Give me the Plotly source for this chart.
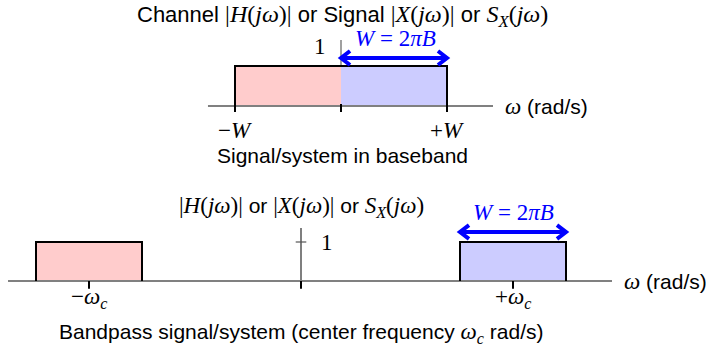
import plotly.graph_objects as go

# ---- data (normalised units: bandwidth W = 1, carrier wc = 2W) ----
W = 1.0
WC = 2.0
AMPLITUDE = 1.0
baseband_left = [-W, 0.0]          # red half of the baseband spectrum
baseband_right = [0.0, W]          # blue half of the baseband spectrum
baseband_ticks = [-W, 0.0, W]
baseband_tick_labels = ["\u2212<i>W</i>", "+<i>W</i>"]
passband_centers = [-WC, WC]
passband_ticks = [-WC, 0.0, WC]
passband_tick_labels = ["\u2212<i>\u03c9<sub>c</sub></i>", "+<i>\u03c9<sub>c</sub></i>"]

# ---- styling ----
W_PX, H_PX = 706, 346
SPLIT_PX = 170
SANS = "Liberation Sans"
SERIF = "Liberation Serif"
FS = 21
FS_MATH = 23
RED_FILL = "#ffcccc"
BLUE_FILL = "#ccccff"
AXIS_GRAY = "#808080"
BLUE = "#0000ff"


def serif(s, size=FS_MATH):
    return f'<span style="font-family:{SERIF};font-size:{size}px">{s}</span>'


def spectra(size):
    return (serif("|<i>H</i>(<i>j\u03c9</i>)|", size),
            serif("|<i>X</i>(<i>j\u03c9</i>)|", size),
            serif("<i>S<sub>X</sub></i>(<i>j\u03c9</i>)", size))


BW_TXT = "<i>W</i>\u2005=\u20052<i>\u03c0B</i>"

fig = go.Figure()


def line(xs, ys, color, width, ax):
    fig.add_trace(go.Scatter(
        x=xs, y=ys, mode="lines", line=dict(color=color, width=width),
        hoverinfo="skip", showlegend=False, xaxis=ax[0], yaxis=ax[1]))


def box_fill(x0, x1, h, color, ax):
    fig.add_trace(go.Scatter(
        x=[x0, x0, x1, x1, x0], y=[0, h, h, 0, 0], mode="lines",
        line=dict(width=0), fill="toself", fillcolor=color,
        hoverinfo="skip", showlegend=False, xaxis=ax[0], yaxis=ax[1]))


def double_arrow(x0, x1, y, ax, back, half):
    line([x0, x1], [y, y], BLUE, 4, ax)
    line([x0 + back, x0, x0 + back], [y + half, y, y - half], BLUE, 4, ax)
    line([x1 - back, x1, x1 - back], [y + half, y, y - half], BLUE, 4, ax)


TOP = ("x", "y")
BOT = ("x2", "y2")

# ---------------- baseband panel ----------------
line([0, 0], [0, 1.65], AXIS_GRAY, 1.5, TOP)
box_fill(baseband_left[0], baseband_left[1], AMPLITUDE, RED_FILL, TOP)
box_fill(baseband_right[0], baseband_right[1], AMPLITUDE, BLUE_FILL, TOP)
line([-1.255, 1.434], [0, 0], AXIS_GRAY, 2, TOP)
line([baseband_left[0], baseband_left[0], baseband_right[1], baseband_right[1]],
     [0, AMPLITUDE, AMPLITUDE, 0], "black", 2, TOP)
for t in baseband_ticks:
    line([t, t], [0.05, -0.15], "black", 2, TOP)
double_arrow(0.0, W, 1.2, TOP, 0.085, 0.175)

# ---------------- bandpass panel ----------------
line([0, 0], [0, 1.36], "#555555", 1.5, BOT)
line([-0.05, 0.05], [AMPLITUDE, AMPLITUDE], "#555555", 1.2, BOT)
box_fill(passband_centers[0] - W / 2, passband_centers[0] + W / 2, AMPLITUDE, RED_FILL, BOT)
box_fill(passband_centers[1] - W / 2, passband_centers[1] + W / 2, AMPLITUDE, BLUE_FILL, BOT)
line([-2.764, 2.934], [0, 0], AXIS_GRAY, 2, BOT)
for c in passband_centers:
    line([c - W / 2, c - W / 2, c + W / 2, c + W / 2], [0, AMPLITUDE, AMPLITUDE, 0], "black", 2, BOT)
for t in passband_ticks:
    line([t, t], [0, -0.2], "black", 2, BOT)
double_arrow(passband_centers[1] - W / 2, passband_centers[1] + W / 2, 1.256, BOT, 0.085, 0.175)

# ---------------- text ----------------
ann = []


def text(x, y, s, ax, color="black", family=SANS, size=FS, xanchor="center"):
    ann.append(dict(x=x, y=y, xref=ax[0], yref=ax[1], text=s, showarrow=False,
                    font=dict(family=family, size=size, color=color),
                    xanchor=xanchor, yanchor="middle"))


h1, x1, s1 = spectra(24)
text(0.01, 2.25, f"Channel {h1} or Signal {x1} or {s1}", TOP, size=22)
text(-0.2, 1.5, "1", TOP, family=SERIF, size=FS_MATH)
text(0.51, 1.68, BW_TXT, TOP, color=BLUE, family=SERIF, size=FS_MATH)
text(1.53, 0, f"{serif('<i>ω</i>')} (rad/s)", TOP, xanchor="left")
for t, lab in zip([baseband_ticks[0], baseband_ticks[-1]], baseband_tick_labels):
    text(t, -0.6, lab, TOP, family=SERIF, size=FS_MATH)
text(0.01, -1.225, "Signal/system in baseband", TOP)

h2, x2, s2 = spectra(FS_MATH)
text(0.0, 1.9, f"{h2} or {x2} or {s2}", BOT)
text(0.245, AMPLITUDE, "1", BOT, family=SERIF, size=FS_MATH)
text(passband_centers[1], 1.76, BW_TXT, BOT, color=BLUE, family=SERIF, size=FS_MATH)
text(3.03, 0, f"{serif('<i>ω</i>')} (rad/s)", BOT, xanchor="left")
for t, lab in zip([passband_ticks[0], passband_ticks[-1]], passband_tick_labels):
    text(t, -0.44, lab, BOT, family=SERIF, size=FS_MATH)
text(0.0, -1.33, f"Bandpass signal/system (center frequency {serif('<i>ω<sub>c</sub></i>')} rad/s)", BOT)

# ---------------- axes mapped to pixel layout ----------------
top_dom = (H_PX - SPLIT_PX) / H_PX
hidden = dict(visible=False, showgrid=False, zeroline=False, fixedrange=True)
fig.update_layout(
    width=W_PX, height=H_PX, margin=dict(l=0, r=0, t=0, b=0),
    paper_bgcolor="white", plot_bgcolor="white",
    xaxis=dict(domain=[0, 1], range=[-341 / 106, (W_PX - 341) / 106], anchor="y", **hidden),
    yaxis=dict(domain=[top_dom, 1], range=[(106 - SPLIT_PX) / 40, 106 / 40], anchor="x", **hidden),
    xaxis2=dict(domain=[0, 1], range=[-301 / 106, (W_PX - 301) / 106], anchor="y2", **hidden),
    yaxis2=dict(domain=[0, top_dom], range=[(281 - H_PX) / 39, (281 - SPLIT_PX) / 39], anchor="x2", **hidden),
    annotations=ann,
)

fig.write_html("out.html")
